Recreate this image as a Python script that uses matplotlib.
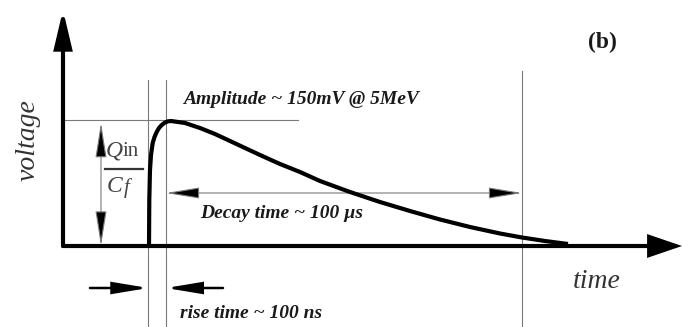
import matplotlib
matplotlib.use("Agg")
import matplotlib.pyplot as plt
from matplotlib.patches import FancyArrowPatch
from matplotlib.lines import Line2D

# Preamplifier output pulse (schematic): time in arbitrary units, voltage in mV
time_au = [86, 86.3, 87, 88, 89.7, 91.5, 93.7, 96, 98.7, 102, 105, 108,
           122, 137, 152, 167, 182, 197, 217, 237, 257, 287, 317, 347, 377,
           407, 437, 459, 482, 505]
voltage_mv = [0, 55.2, 91.2, 109.2, 123.6, 130.8, 136.8, 141.6, 145.2, 148.2, 149.6, 150,
              147.6, 141.6, 134.4, 126, 117.6, 109.2, 98.4, 88.8, 78, 64.8, 52.8, 42, 31.8,
              22.8, 15, 10.2, 6, 2.4]

peak_mv = 150
rise_start, rise_end, decay_end = 85.3, 103, 459

amp_label = "Amplitude ~ 150mV @ 5MeV"
decay_label = "Decay time ~ 100 \u00b5s"
rise_label = "rise time ~ 100 ns"

S = 1.2  # mV per vertical unit of the drawing grid

fig = plt.figure(figsize=(6.82, 3.27), dpi=100)
ax = fig.add_axes([0, 0, 1, 1])
ax.set_xlim(-63, 619)
ax.set_ylim(-81 * S, 246 * S)
ax.axis("off")

serif = "Liberation Serif"
thin = dict(color="#7a7a7a", lw=0.8)


def arrow(p0, p1, style, lw, color="black", hl=20, hw=4, z=3):
    a = FancyArrowPatch(p0, p1, arrowstyle=f"{style},head_length={hl},head_width={hw}",
                        mutation_scale=1, lw=lw, color=color, shrinkA=0, shrinkB=0,
                        zorder=z, joinstyle="miter")
    ax.add_patch(a)
    return a


def double_arrow(p0, p1, hl, hw):
    a = FancyArrowPatch(p0, p1, arrowstyle=f"<|-|>,head_length={hl},head_width={hw}",
                        mutation_scale=1, lw=0.8, shrinkA=0, shrinkB=0, zorder=3)
    a.set_edgecolor("#7a7a7a")
    a.set_facecolor("black")
    ax.add_patch(a)


# guide lines
ax.add_line(Line2D([0, 235], [peak_mv + 1, peak_mv + 1], **thin))
ax.add_line(Line2D([rise_start, rise_start], [-81 * S, 166 * S], **thin))
ax.add_line(Line2D([rise_end, rise_end], [-81 * S, 166 * S], **thin))
ax.add_line(Line2D([decay_end, decay_end], [-81 * S, 175 * S], **thin))

# axes with arrowheads
arrow((0, 0), (0, 236 * S), "-|>", 3.0, hl=22, hw=5.2)
arrow((0, 0), (619, 0), "-|>", 3.0, hl=19, hw=6.5)

# pulse
ax.plot(time_au, voltage_mv, color="black", lw=3.0, solid_capstyle="butt",
        solid_joinstyle="round", zorder=4)

# amplitude and decay double arrows
double_arrow((38, 0), (38, peak_mv - 2), hl=22, hw=3.5)
double_arrow((rise_end, 53 * S), (decay_end, 53 * S), hl=21, hw=3.5)

# rise time arrows
arrow((27, -42 * S), (rise_start, -42 * S), "-|>", 1.8, hl=21, hw=3.5)
arrow((160, -42 * S), (rise_end, -42 * S), "-|>", 1.8, hl=21, hw=3.5)

# fraction Q_in / C_f
tc = "#444444"
ax.text(43, 90 * S, "Q", family=serif, style="italic", fontsize=17, color=tc,
        ha="left", va="baseline")
ax.text(60, 90 * S, "in", family=serif, fontsize=15, color=tc, ha="left", va="baseline")
ax.add_line(Line2D([42, 80], [77 * S, 77 * S], color="#333333", lw=1.6))
ax.text(44, 53.5 * S, "C", family=serif, style="italic", fontsize=17, color=tc,
        ha="left", va="baseline")
ax.text(61, 53.5 * S, "f", family=serif, style="italic", fontsize=15, color=tc,
        ha="left", va="baseline")

# labels
lab = dict(family=serif, style="italic", weight="bold", fontsize=14, color="#1a1a1a")
ax.text(120, 146 * S, amp_label, ha="left", va="center", **lab)
ax.text(137, 33 * S, decay_label, ha="left", va="center", **lab)
ax.text(117, -68 * S, rise_label, ha="left", va="center", **lab)

ax.text(-35, 106 * S, "voltage", family=serif, style="italic", fontsize=20,
        color="#333333", rotation=90, ha="center", va="center")
ax.text(534, -35 * S, "time", family=serif, style="italic", fontsize=20,
        color="#333333", ha="center", va="center")
ax.text(539, 204 * S, "(b)", family=serif, weight="bold", fontsize=17,
        color="#1a1a1a", ha="center", va="center")

fig.savefig("out.png", dpi=100)
